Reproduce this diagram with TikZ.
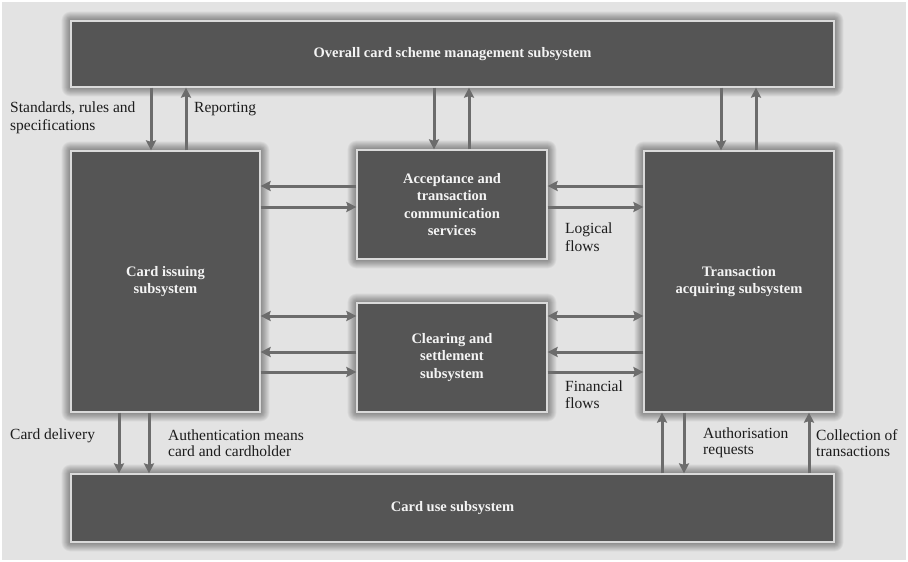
\documentclass[tikz,border=0pt]{standalone}
\usepackage{fontspec}
\setmainfont{Liberation Serif}
\usetikzlibrary{arrows.meta,backgrounds}
\pgfdeclarelayer{canvas}
\pgfsetlayers{canvas,background,main}
\definecolor{bgcol}{HTML}{E3E3E3}
\definecolor{boxfill}{HTML}{555555}
\definecolor{boxline}{HTML}{DADADA}
\definecolor{boxtext}{HTML}{F4F4F4}
\definecolor{arrcol}{HTML}{6C6C6C}
\definecolor{labcol}{HTML}{1C1C1C}
\tikzset{
  sysbox/.style={draw=boxline, line width=1.2pt, fill=boxfill, inner sep=0pt,
    text=boxtext, align=center,
    font=\fontsize{14.5}{17.5}\selectfont\bfseries},
  arr/.style={draw=arrcol, line width=3pt,
    -{Stealth[length=10pt,width=10pt,inset=1.5pt]}},
  darr/.style={draw=arrcol, line width=3pt,
    {Stealth[length=10pt,width=10pt,inset=1.5pt]}-{Stealth[length=10pt,width=10pt,inset=1.5pt]}},
  lab/.style={text=labcol, align=left, inner sep=0pt, anchor=west,
    font=\fontsize{15.5}{17}\selectfont},
}
\begin{document}
\begin{tikzpicture}[x=1pt,y=-1pt]
\useasboundingbox (0,0) rectangle (908,562);
\begin{pgfonlayer}{canvas}
\fill[white] (0,0) rectangle (908,562);
\fill[bgcol] (2,2) rectangle (906,560);
\end{pgfonlayer}

% boxes
\node[sysbox, minimum width=763pt, minimum height=66pt] (top) at (452.5,54)
  {Overall card scheme management subsystem};
\node[sysbox, minimum width=189pt, minimum height=261pt] (issue) at (165.5,281.5)
  {Card issuing\\subsystem};
\node[sysbox, minimum width=190pt, minimum height=109pt] (accept) at (452,204.5)
  {Acceptance and\\transaction\\communication\\services};
\node[sysbox, minimum width=190pt, minimum height=109pt] (clear) at (452,357.5)
  {Clearing and\\settlement\\subsystem};
\node[sysbox, minimum width=190pt, minimum height=261pt] (trans) at (739,281.5)
  {Transaction\\acquiring subsystem};
\node[sysbox, minimum width=763pt, minimum height=68pt] (use) at (452.5,508)
  {Card use subsystem};

% soft shadows
\begin{scope}[on background layer]
  \foreach \n in {top,issue,accept,clear,trans,use}{
    \foreach \d in {0.5,1,...,9}{
      \fill[black,opacity=0.024, rounded corners=\d pt]
        ([xshift=-\d pt,yshift=-\d pt]\n.south west) rectangle
        ([xshift=\d pt,yshift=\d pt]\n.north east);
    }
  }
\end{scope}

% helper coordinates
\foreach \v in {119,149,151,186,434,469,662,684,721,756,809}{
  \coordinate (x\v) at (\v,0);
}
\foreach \v in {186,207,316,352,372}{
  \coordinate (y\v) at (0,\v);
}

% vertical connectors
\draw[arr] (top.south -| x151) -- (issue.north -| x151);
\draw[arr] (issue.north -| x186) -- (top.south -| x186);
\draw[arr] (top.south -| x434) -- (accept.north -| x434);
\draw[arr] (accept.north -| x469) -- (top.south -| x469);
\draw[arr] (top.south -| x721) -- (trans.north -| x721);
\draw[arr] (trans.north -| x756) -- (top.south -| x756);
\draw[arr] (issue.south -| x119) -- (use.north -| x119);
\draw[arr] (issue.south -| x149) -- (use.north -| x149);
\draw[arr] (use.north -| x662) -- (trans.south -| x662);
\draw[arr] (trans.south -| x684) -- (use.north -| x684);
\draw[arr] (use.north -| x809) -- (trans.south -| x809);

% horizontal connectors
\draw[arr] (accept.west |- y186) -- (issue.east |- y186);
\draw[arr] (issue.east |- y207) -- (accept.west |- y207);
\draw[arr] (trans.west |- y186) -- (accept.east |- y186);
\draw[arr] (accept.east |- y207) -- (trans.west |- y207);
\draw[darr] (issue.east |- y316) -- (clear.west |- y316);
\draw[arr] (clear.west |- y352) -- (issue.east |- y352);
\draw[arr] (issue.east |- y372) -- (clear.west |- y372);
\draw[darr] (clear.east |- y316) -- (trans.west |- y316);
\draw[arr] (trans.west |- y352) -- (clear.east |- y352);
\draw[arr] (clear.east |- y372) -- (trans.west |- y372);

% labels
\node[lab, font=\fontsize{15.5}{18}\selectfont] (lstd) at (10,118) {Standards, rules and\\specifications};
\node[lab] (lrep) at (194,109) {Reporting};
\node[lab, font=\fontsize{15.5}{18}\selectfont] (llog) at (565,237) {Logical\\flows};
\node[lab] (lfin) at (565,395) {Financial\\flows};
\node[lab] (ldel) at (10,436) {Card delivery};
\node[lab, font=\fontsize{15.5}{16}\selectfont] (laut) at (168,443) {Authentication means\\card and cardholder};
\node[lab, font=\fontsize{15.5}{16}\selectfont] (lreq) at (703,443) {Authorisation\\requests};
\node[lab, font=\fontsize{15.5}{16}\selectfont] (lcol) at (816,443) {Collection of\\transactions};
\end{tikzpicture}
\end{document}
